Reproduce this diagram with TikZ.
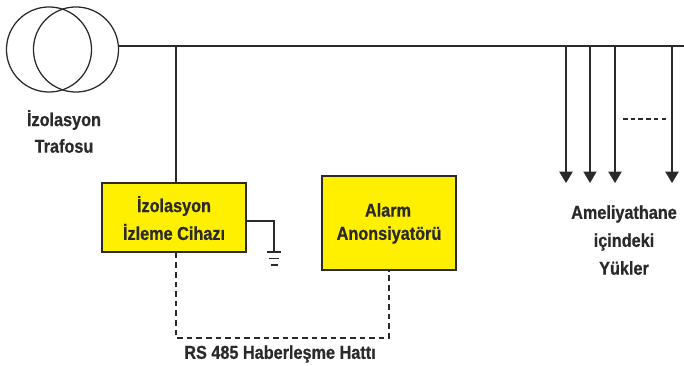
\documentclass[tikz,border=0pt]{standalone}
\usepackage{fontspec}
\setmainfont[FakeStretch=0.87,BoldFeatures={FakeStretch=0.87,FakeBold=0.7}]{Liberation Sans}
\usetikzlibrary{arrows.meta}
\definecolor{ink}{HTML}{2B2A29}
\definecolor{boxy}{HTML}{FFF000}
\tikzset{
  wire/.style={draw=ink,line width=0.95pt},
  thickline/.style={fill=ink,draw=none},
  dashwire/.style={draw=ink,line width=0.95pt,dash pattern=on 4.2pt off 3pt},
  load/.style={wire,-{Triangle[length=8.5pt,width=10pt,fill=ink]}},
  coil/.style={circle,draw=ink,line width=0.95pt,minimum size=63.8pt,inner sep=0pt},
  unit/.style={rectangle,draw=ink,line width=1.2pt,fill=boxy,inner sep=0pt},
  lbl/.style={font=\bfseries\fontsize{14pt}{16pt}\selectfont,text=ink,inner sep=0pt}
}
\begin{document}
\begin{tikzpicture}[x=0.75pt,y=-0.75pt]
\useasboundingbox (0,0) rectangle (684,366);
\node[coil] (t1) at (49,49.5) {};
\node[coil] (t2) at (76,49.5) {};
\coordinate (busL) at (118.5,46);
\coordinate (busR) at (684,46);
\coordinate (tap) at (176,46);
\draw[wire] (busL) -- (busR);
\node[unit,minimum width=108pt,minimum height=51.75pt] (mon) at (174,217.5) {};
\node[unit,minimum width=100.5pt,minimum height=70.5pt] (ala) at (389,223) {};
\draw[wire] (tap) -- (tap |- mon.north);
% ground
\coordinate (g1) at (274,221);
\coordinate (g2) at (274,252);
\draw[wire] (mon.east |- g1) -- (g1) -- (g2);
\coordinate (gA) at (267,252);\coordinate (gB) at (281,252);
\coordinate (gC) at (269,258.5);\coordinate (gD) at (279,258.5);
\coordinate (gE) at (270.5,265);\coordinate (gF) at (277.5,265);
\draw[wire] (gA) -- (gB);
\draw[wire] (gC) -- (gD);
\draw[wire] (gE) -- (gF);
% RS485
\coordinate (r1) at (176,338);
\coordinate (r2) at (389,338);
\draw[dashwire] (r1 |- mon.south) -- (r1) -- (r2) -- (ala.south);
% loads
\coordinate (l1) at (566,46);\coordinate (l1e) at (566,183);
\coordinate (l2) at (590,46);\coordinate (l2e) at (590,183);
\coordinate (l3) at (615,46);\coordinate (l3e) at (615,183);
\coordinate (l4) at (672,46);\coordinate (l4e) at (672,183);
\draw[load] (l1) -- (l1e);
\draw[load,line width=1.9pt,-{Triangle[length=8.5pt,width=10pt,fill=ink,line width=0pt]}] (l2) -- (l2e);
\draw[load] (l3) -- (l3e);
\draw[load] (l4) -- (l4e);
\coordinate (d1) at (623,119);\coordinate (d2) at (666,119);
\draw[draw=ink,line width=0.95pt,dash pattern=on 3.4pt off 2.4pt] (d1) -- (d2);
% labels
\node[lbl] (a1) at (64,120) {İzolasyon};
\node[lbl] (a2) at (64,146) {Trafosu};
\node[lbl] (b1) at (174,206) {İzolasyon};
\node[lbl] (b2) at (174,232) {İzleme Cihazı};
\node[lbl] (c1) at (388,210) {Alarm};
\node[lbl] (c2) at (389,235) {Anonsiyatörü};
\node[lbl] (d1n) at (280,354) {RS 485 Haberleşme Hattı};
\node[lbl] (e1) at (624,214) {Ameliyathane};
\node[lbl] (e2) at (624,242) {içindeki};
\node[lbl] (e3) at (624,268) {Yükler};
\end{tikzpicture}
\end{document}
